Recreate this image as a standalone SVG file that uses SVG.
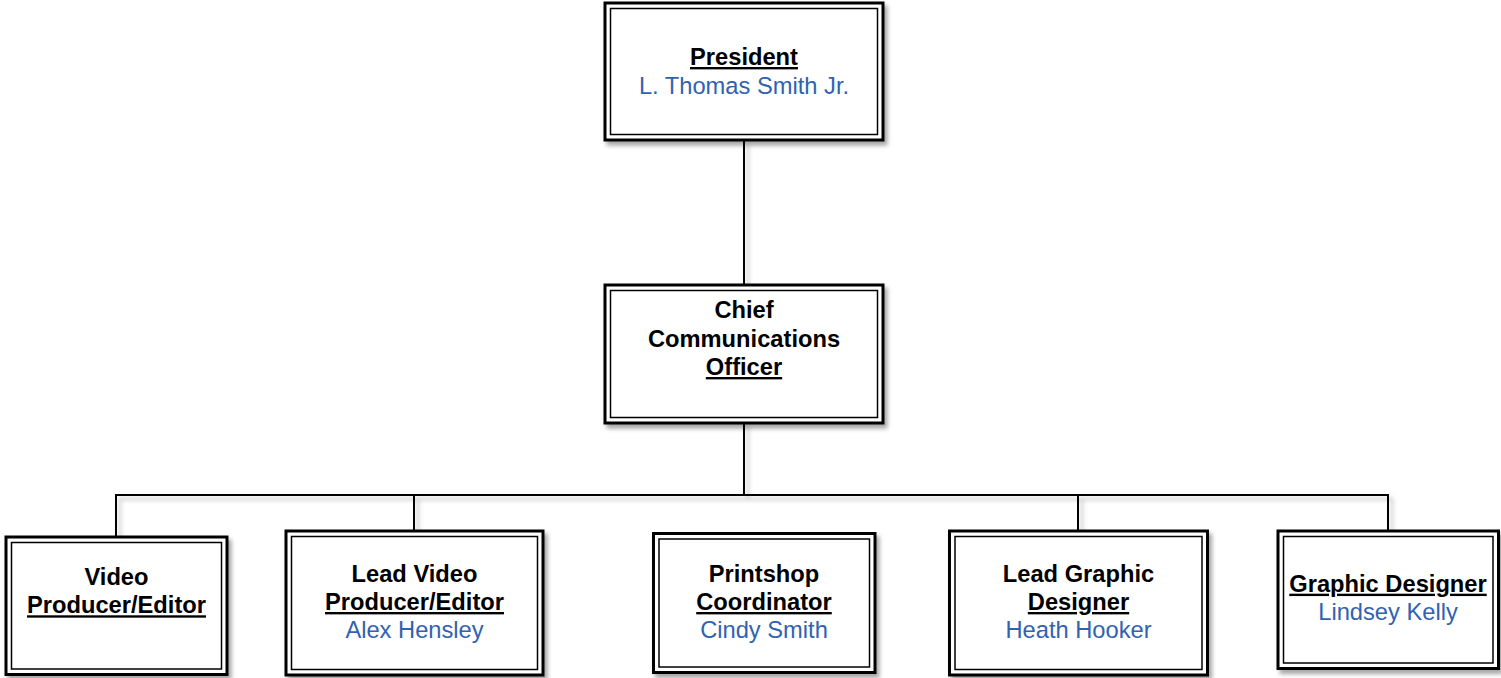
<svg xmlns="http://www.w3.org/2000/svg" width="1501" height="678" viewBox="0 0 1501 678">
<defs>
<filter id="sh" x="-10%" y="-10%" width="130%" height="130%">
<feDropShadow dx="3" dy="4" stdDeviation="2" flood-color="#000" flood-opacity="0.35"/>
</filter>
<filter id="lsh" x="-50%" y="-50%" width="200%" height="200%">
<feDropShadow dx="4" dy="4" stdDeviation="2" flood-color="#000" flood-opacity="0.25"/>
</filter>
</defs>
<style>
.outer{fill:#fff;stroke:#000;stroke-width:3}
.inner{fill:none;stroke:#000;stroke-width:1.5}
.t{font-family:"Liberation Sans",Arial,sans-serif;font-size:23.7px;text-anchor:middle}
.b{font-weight:bold;fill:#000}
.u{text-decoration:underline}
.n{fill:#3162B0}
.c{fill:none;stroke:#000;stroke-width:2}
</style>
<g id="connectors" filter="url(#lsh)">
<path class="c" d="M744 140 V285"/>
<path class="c" d="M744 423 V495"/>
<path class="c" d="M116 537 V495 H1388 V531"/>
<path class="c" d="M414 495 V531"/>
<path class="c" d="M1078 495 V531"/>
</g>
<g id="president">
<rect class="outer" x="605" y="3" width="278" height="137" filter="url(#sh)"/>
<rect class="inner" x="610.5" y="8.5" width="267" height="126"/>
<text class="t b u" x="744" y="65">President</text>
<text class="t n" x="744" y="94">L. Thomas Smith Jr.</text>
</g>
<g id="cco">
<rect class="outer" x="605" y="285" width="278" height="138" filter="url(#sh)"/>
<rect class="inner" x="610.5" y="290.5" width="267" height="127"/>
<text class="t b" x="744" y="318">Chief</text>
<text class="t b" x="744" y="346.5">Communications</text>
<text class="t b u" x="744" y="375">Officer</text>
</g>
<g id="video-producer">
<rect class="outer" x="6" y="537" width="221" height="137.5" filter="url(#sh)"/>
<rect class="inner" x="11.5" y="542.5" width="210" height="126.5"/>
<text class="t b" x="116.5" y="585">Video</text>
<text class="t b u" x="116.5" y="613.3">Producer/Editor</text>
</g>
<g id="lead-video-producer">
<rect class="outer" x="286" y="531" width="257" height="144" filter="url(#sh)"/>
<rect class="inner" x="291.5" y="536.5" width="246" height="133"/>
<text class="t b" x="414.5" y="581.7">Lead Video</text>
<text class="t b u" x="414.5" y="610">Producer/Editor</text>
<text class="t n" x="414.5" y="638.3">Alex Hensley</text>
</g>
<g id="printshop-coordinator">
<rect class="outer" x="653.5" y="533.5" width="221.5" height="139" filter="url(#sh)"/>
<rect class="inner" x="659" y="539" width="210.5" height="128"/>
<text class="t b" x="764" y="581.7">Printshop</text>
<text class="t b u" x="764" y="610">Coordinator</text>
<text class="t n" x="764" y="638.3">Cindy Smith</text>
</g>
<g id="lead-graphic-designer">
<rect class="outer" x="949.5" y="531" width="258" height="144" filter="url(#sh)"/>
<rect class="inner" x="955" y="536.5" width="247" height="133"/>
<text class="t b" x="1078.5" y="581.7">Lead Graphic</text>
<text class="t b u" x="1078.5" y="610">Designer</text>
<text class="t n" x="1078.5" y="638.3">Heath Hooker</text>
</g>
<g id="graphic-designer">
<rect class="outer" x="1278" y="531" width="220.5" height="137.5" filter="url(#sh)"/>
<rect class="inner" x="1283.5" y="536.5" width="209.5" height="126.5"/>
<text class="t b u" x="1388" y="591.7">Graphic Designer</text>
<text class="t n" x="1388" y="620">Lindsey Kelly</text>
</g>
</svg>
